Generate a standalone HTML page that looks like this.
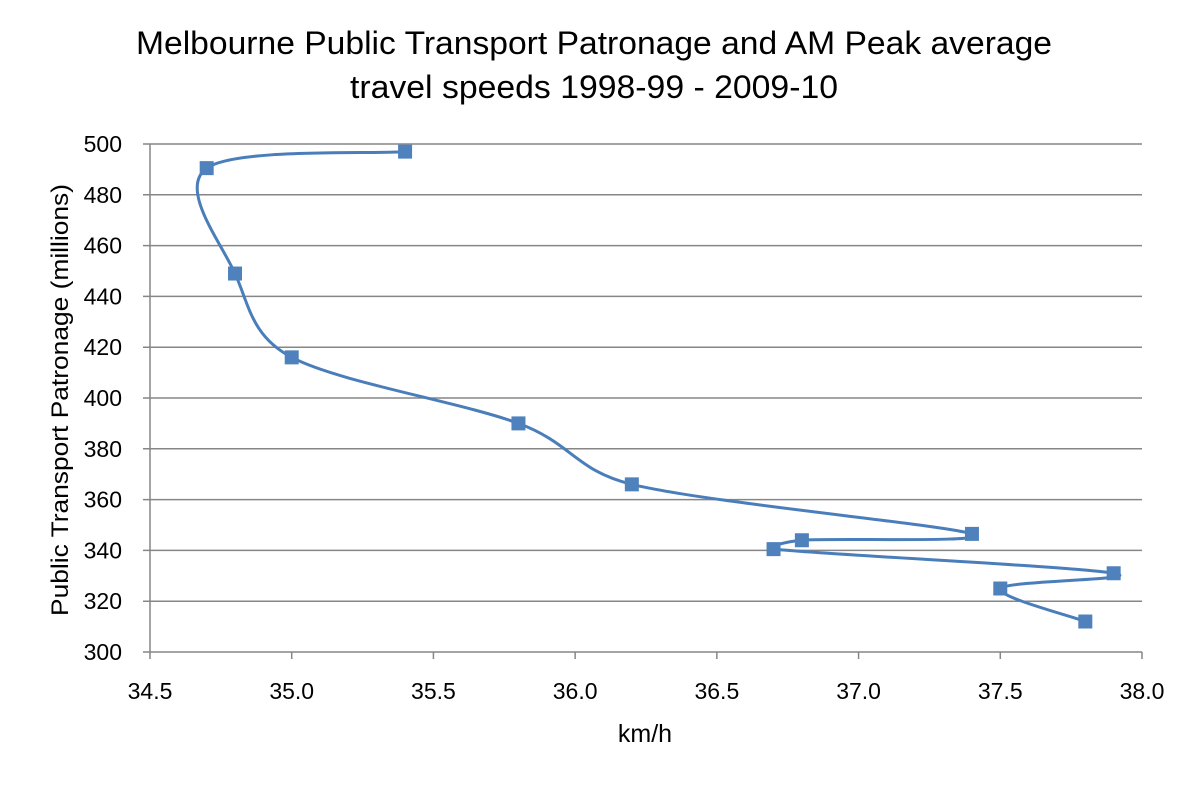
<!DOCTYPE html>
<html><head><meta charset="utf-8"><style>
html,body{margin:0;padding:0;background:#fff;}
svg{display:block;font-family:"Liberation Sans",sans-serif;}
</style></head><body>
<svg id="s" width="1188" height="795" viewBox="0 0 1188 795" xmlns="http://www.w3.org/2000/svg">
<rect width="1188" height="795" fill="#fff"/>
<text x="594" y="54" font-size="32" text-anchor="middle" fill="#000" textLength="916" lengthAdjust="spacingAndGlyphs">Melbourne Public Transport Patronage and AM Peak average</text>
<text x="594" y="98" font-size="32" text-anchor="middle" fill="#000" textLength="488" lengthAdjust="spacingAndGlyphs">travel speeds 1998-99 - 2009-10</text>
<g id="grid" stroke="#868686" stroke-width="1.5"></g>
<g id="lab" font-size="23" fill="#000"></g>
<text x="645" y="742" font-size="25" text-anchor="middle">km/h</text>
<text transform="translate(68,400) rotate(-90)" font-size="24" text-anchor="middle" textLength="432" lengthAdjust="spacingAndGlyphs">Public Transport Patronage  (millions)</text>
<path id="ln" fill="none" stroke="#4a7ebb" stroke-width="3"/>
<g id="mk" fill="#4f81bd"></g>
</svg>
<script>
var X0=150,X1=1142,Y0=652,Y1=144;
function px(v){return X0+(v-34.5)/3.5*(X1-X0);}
function py(v){return Y0-(v-300)/200*(Y0-Y1);}
var g=document.getElementById('grid'),l=document.getElementById('lab'),ns='http://www.w3.org/2000/svg';
function el(p,t,a,txt){var e=document.createElementNS(ns,t);for(var k in a)e.setAttribute(k,a[k]);if(txt)e.textContent=txt;p.appendChild(e);return e;}
for(var v=300;v<=500;v+=20){var y=py(v);el(g,'line',{x1:X0-7,x2:X1,y1:y,y2:y});el(l,'text',{x:122,y:y+8,'text-anchor':'end'},String(v));}
el(g,'line',{x1:X0,x2:X0,y1:Y1,y2:Y0});
for(var i=0;i<=7;i++){var x=X0+i*(X1-X0)/7;el(g,'line',{x1:x,x2:x,y1:Y0,y2:Y0+7});el(l,'text',{x:x,y:699,'text-anchor':'middle'},(34.5+i*0.5).toFixed(1));}
var d=[[35.4,497],[34.7,490.5],[34.8,449],[35.0,416],[35.8,390],[36.2,366],[37.4,346.5],[36.8,344],[36.7,340.5],[37.9,331],[37.5,325],[37.8,312]];
var p=d.map(function(a){return [px(a[0]),py(a[1])];});
function lim(vx,vy,L){var m=Math.hypot(vx,vy);if(m>L){vx*=L/m;vy*=L/m;}return [vx,vy];}
var s='M'+p[0][0]+','+p[0][1];
for(var i=0;i<p.length-1;i++){var a=p[i-1]||p[i],b=p[i],c=p[i+1],e=p[i+2]||c,t=1/6;
var L=Math.hypot(c[0]-b[0],c[1]-b[1])*0.45;
var v1=lim((c[0]-a[0])*t,(c[1]-a[1])*t,L),v2=lim((e[0]-b[0])*t,(e[1]-b[1])*t,L);
s+=' C'+(b[0]+v1[0])+','+(b[1]+v1[1])+' '+(c[0]-v2[0])+','+(c[1]-v2[1])+' '+c[0]+','+c[1];}
document.getElementById('ln').setAttribute('d',s);
var m=document.getElementById('mk');
p.forEach(function(q){el(m,'rect',{x:q[0]-7,y:q[1]-7,width:14,height:14});});
</script>
</body></html>
